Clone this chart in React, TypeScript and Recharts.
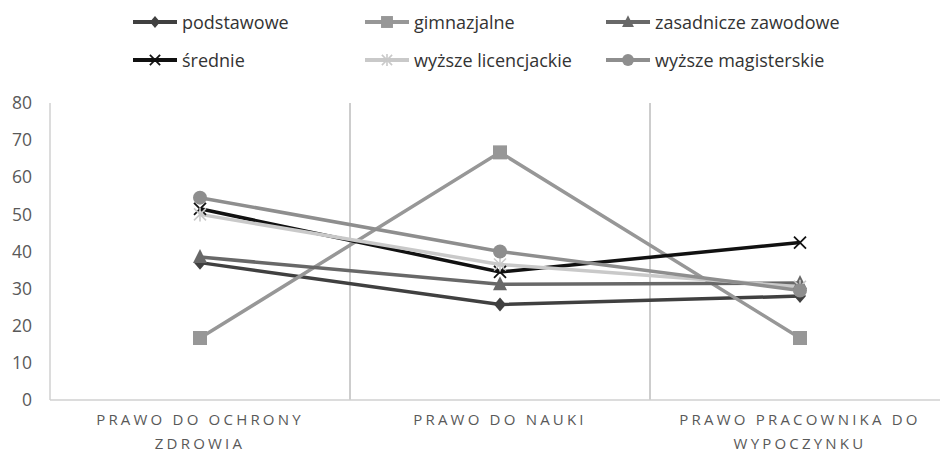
import React from "react";
import { LineChart, Line, XAxis, YAxis, ReferenceLine, Legend } from "recharts";

const categories = ["PRAWO DO OCHRONY\nZDROWIA", "PRAWO DO NAUKI", "PRAWO PRACOWNIKA DO\nWYPOCZYNKU"];
const categoryPositions = [0.5, 1.5, 2.5];
const separators = [1, 2];
const yTicks = [0, 10, 20, 30, 40, 50, 60, 70, 80];

const podstawowe = [37, 25.7, 28];
const gimnazjalne = [16.7, 66.7, 16.7];
const zasadnicze = [38.5, 31.2, 31.5];
const srednie = [51.5, 34.5, 42.4];
const licencjackie = [50, 36.5, 30.5];
const magisterskie = [54.5, 40, 29.5];

const seriesDefs = [
  { key: "podstawowe", name: "podstawowe", values: podstawowe, color: "#404040", shape: "diamond" },
  { key: "gimnazjalne", name: "gimnazjalne", values: gimnazjalne, color: "#979797", shape: "square" },
  { key: "zasadnicze", name: "zasadnicze zawodowe", values: zasadnicze, color: "#686868", shape: "triangle" },
  { key: "srednie", name: "średnie", values: srednie, color: "#111111", shape: "x" },
  { key: "licencjackie", name: "wyższe licencjackie", values: licencjackie, color: "#c9c9c9", shape: "asterisk" },
  { key: "magisterskie", name: "wyższe magisterskie", values: magisterskie, color: "#8e8e8e", shape: "circle" },
];

const data = categoryPositions.map((x, i) => {
  const row: any = { x, label: categories[i] };
  seriesDefs.forEach((s) => (row[s.key] = s.values[i]));
  return row;
});

const FONT = "'Open Sans', 'DejaVu Sans', sans-serif";

function marker(shape: string, color: string, cx: number, cy: number, k?: any, scale = 1) {
  const s = scale;
  switch (shape) {
    case "diamond":
      return <polygon key={k} points={`${cx},${cy - 7 * s} ${cx + 6 * s},${cy} ${cx},${cy + 7 * s} ${cx - 6 * s},${cy}`} fill={color} />;
    case "square":
      return <rect key={k} x={cx - 7 * s} y={cy - 7 * s} width={14 * s} height={14 * s} fill={color} />;
    case "triangle":
      return <polygon key={k} points={`${cx},${cy - 8 * s} ${cx + 7 * s},${cy + 6 * s} ${cx - 7 * s},${cy + 6 * s}`} fill={color} />;
    case "x":
      return (
        <g key={k} stroke={color} strokeWidth={1.8}>
          <line x1={cx - 6 * s} y1={cy - 6 * s} x2={cx + 6 * s} y2={cy + 6 * s} />
          <line x1={cx - 6 * s} y1={cy + 6 * s} x2={cx + 6 * s} y2={cy - 6 * s} />
        </g>
      );
    case "asterisk":
      return (
        <g key={k} stroke={color} strokeWidth={1.6}>
          <line x1={cx - 6 * s} y1={cy - 6 * s} x2={cx + 6 * s} y2={cy + 6 * s} />
          <line x1={cx - 6 * s} y1={cy + 6 * s} x2={cx + 6 * s} y2={cy - 6 * s} />
          <line x1={cx} y1={cy - 7 * s} x2={cx} y2={cy + 7 * s} />
        </g>
      );
    default:
      return <circle key={k} cx={cx} cy={cy} r={7 * s} fill={color} />;
  }
}

const LegendContent = () => (
  <div style={{ paddingLeft: 133, paddingTop: 3, display: "grid", gridTemplateColumns: "232px 241px 300px", gridAutoRows: "38px", fontFamily: FONT, fontSize: 18, color: "#333" }}>
    {seriesDefs.map((s) => (
      <div key={s.key} style={{ display: "flex", alignItems: "center", whiteSpace: "nowrap" }}>
        <svg width={44} height={20} style={{ marginRight: 5 }}>
          <line x1={0} y1={10} x2={44} y2={10} stroke={s.color} strokeWidth={4} />
          {marker(s.shape, s.color, 22, 10, undefined, 0.85)}
        </svg>
        <span>{s.name}</span>
      </div>
    ))}
  </div>
);

const XTick = (props: any) => {
  const { x, y, payload } = props;
  const idx = categoryPositions.indexOf(payload.value);
  const lines = (categories[idx] || "").split("\n");
  return (
    <g>
      {lines.map((ln, i) => (
        <text key={i} x={x} y={y + 17 + i * 24} textAnchor="middle" fill="#595959" fontFamily={FONT} fontSize={15} letterSpacing={3.2}>
          {ln}
        </text>
      ))}
    </g>
  );
};

export default function App() {
  return (
    <div style={{ position: "absolute", left: 0, top: 0, width: 940, height: 454, overflow: "hidden", background: "#fff" }}>
      <LineChart width={950} height={454} data={data} margin={{ top: 23, right: 0, bottom: 0, left: 0 }}>
        <Legend verticalAlign="top" content={<LegendContent />} wrapperStyle={{ top: 0, left: 0, width: 950, height: 80 }} />
        <XAxis
          dataKey="x"
          type="number"
          domain={[0, 3]}
          ticks={categoryPositions}
          tick={<XTick />}
          tickLine={false}
          axisLine={{ stroke: "#d0d0d0", strokeWidth: 1.5 }}
          height={54}
          interval={0}
        />
        <YAxis
          domain={[0, 80]}
          ticks={yTicks}
          width={50}
          tickLine={false}
          tickSize={0}
          tickMargin={18}
          axisLine={{ stroke: "#d0d0d0", strokeWidth: 1.5 }}
          tick={{ fill: "#595959", fontFamily: FONT, fontSize: 17.5 }}
          interval={0}
        />
        {separators.map((v) => (
          <ReferenceLine key={v} x={v} stroke="#bdbdbd" strokeWidth={1.5} />
        ))}
        {seriesDefs.map((s) => (
          <Line
            key={s.key}
            dataKey={s.key}
            name={s.name}
            stroke={s.color}
            strokeWidth={3.5}
            isAnimationActive={false}
            dot={(p: any) => marker(s.shape, s.color, p.cx, p.cy, `${s.key}-${p.index}`)}
            activeDot={false}
          />
        ))}
      </LineChart>
    </div>
  );
}
